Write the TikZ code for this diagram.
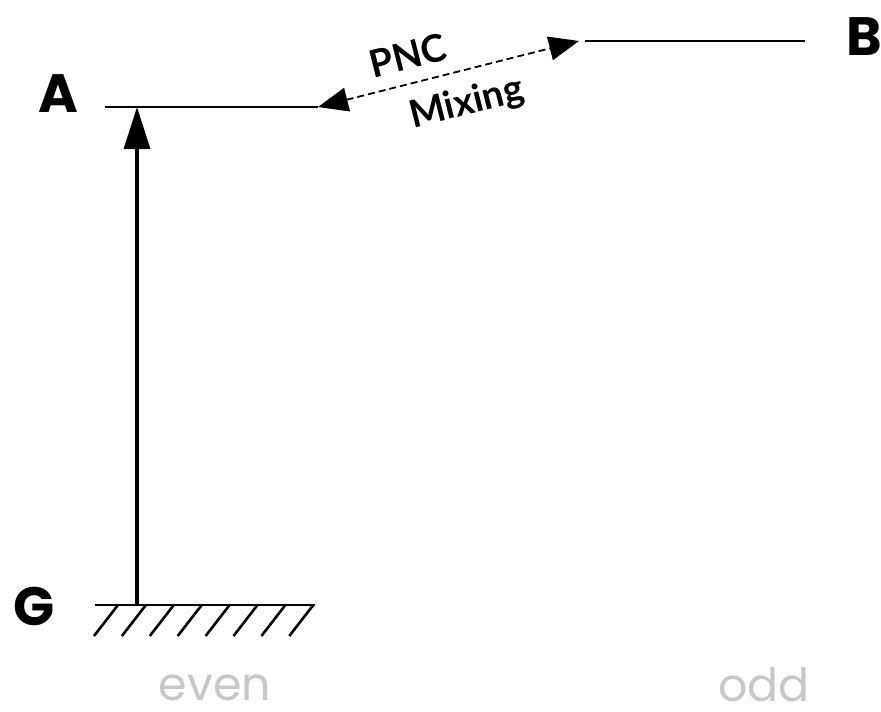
\documentclass[tikz,border=0pt]{standalone}
\usepackage{fontspec}
\setmainfont{Poppins}
\newfontfamily\mixfont{Lato}
\usetikzlibrary{arrows.meta}

\begin{document}
\begin{tikzpicture}[x=1pt,y=-1pt,
  level/.style={line width=2pt},
  hatch/.style={line width=2.6pt},
  statelabel/.style={font=\fontsize{54}{54}\selectfont\bfseries,inner sep=0pt},
  parity/.style={font=\fontsize{46}{46}\selectfont,text=black!22,inner sep=0pt},
  mixlabel/.style={font=\mixfont\fontsize{38}{38}\selectfont\bfseries,inner sep=0pt},
  excite/.style={-{Triangle[length=42pt,width=26pt]},line width=3.5pt},
  pnc/.style={{Triangle[length=30pt,width=24pt]}-{Triangle[length=30pt,width=24pt]},
              line width=1.8pt,dash pattern=on 7pt off 4pt},
]
\useasboundingbox (0,0) rectangle (881,712);

\node[statelabel] (A) at (58,94) {A};
\node[statelabel] (B) at (864,37) {B};
\node[statelabel] (G) at (34,606) {G};
\node[parity,anchor=base] (even) at (215,700) {even};
\node[parity,anchor=base] (odd) at (764,701) {odd};

\coordinate (Aleft) at (105,107);
\coordinate (Aend) at (318,107);
\coordinate (Bend) at (579,41);
\coordinate (Bstart) at (585,41);
\coordinate (Bright) at (805,41);
\coordinate (Gleft) at (95,605);
\coordinate (Gright) at (315,605);
\coordinate (Gfoot) at (137,605);
\coordinate (Atop) at (137,107);

% levels
\draw[level] (Aleft) -- (Aend);
\draw[level] (Bstart) -- (Bright);
\draw[level] (Gleft) -- (Gright);
\foreach \k in {0,...,7}
  \draw[hatch] (118+27.9*\k,605) -- ++(-24,31);

\draw[excite] (Gfoot) -- (Atop);
\draw[pnc] (Aend) -- (Bend)
  node[mixlabel,pos=0.37,sloped,above=13pt] (pnclab) {PNC}
  node[mixlabel,pos=0.54,sloped,below=15pt] (mixlab) {Mixing};
\end{tikzpicture}
\end{document}
